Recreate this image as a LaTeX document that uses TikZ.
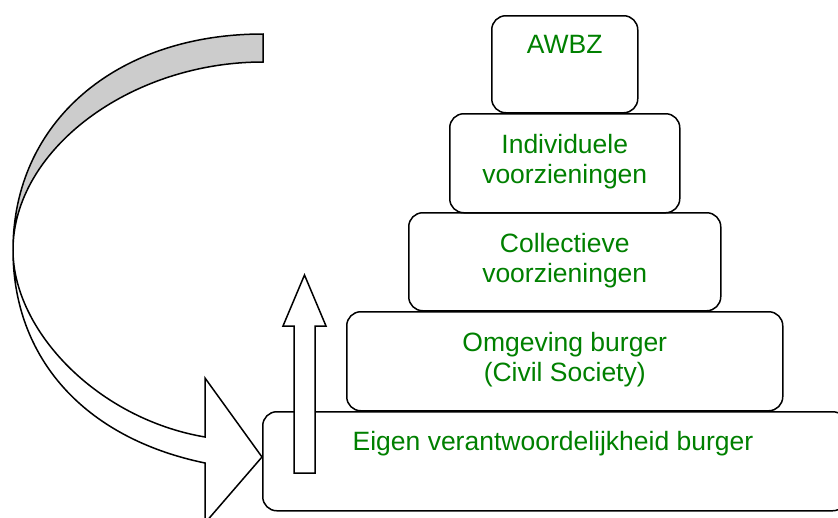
\documentclass[tikz,border=0pt]{standalone}
\usepackage{fontspec}
\setmainfont{Liberation Sans}
\usetikzlibrary{calc}
\definecolor{txtgreen}{RGB}{0,128,0}
\definecolor{backgray}{RGB}{204,204,204}
\tikzset{
  box/.style={draw, line width=1.5, rounded corners=14, fill=white, anchor=north west, inner sep=0},
  lbl/.style={anchor=base, inner sep=0, text=txtgreen, font=\fontsize{26.5}{30.5}\selectfont},
  shapeline/.style={draw, line width=1.5, line join=miter}
}
\begin{document}
\begin{tikzpicture}[x=1pt, y=-1pt]
\useasboundingbox (0,0) rectangle (838,517);
\clip (0,0) rectangle (838,517);
% boxes of the pyramid
\node[box, minimum width=584pt, minimum height=99pt] (eigen) at (262,411) {};
\node[box, minimum width=436pt, minimum height=99pt] (omg) at (346,311) {};
\node[box, minimum width=312pt, minimum height=98pt] (coll) at (408,212) {};
\node[box, minimum width=230pt, minimum height=99pt] (indiv) at (449,113) {};
\node[box, minimum width=146pt, minimum height=97pt] (awbz) at (491,15) {};
% texts
\node[lbl] (tawbz) at ($(awbz.north)+(0,38.5)$) {AWBZ};
\node[lbl] (tindiv1) at ($(indiv.north)+(0,40)$) {Individuele};
\node[lbl] (tindiv2) at ($(indiv.north)+(0,70.5)$) {voorzieningen};
\node[lbl] (tcoll1) at ($(coll.north)+(0,40)$) {Collectieve};
\node[lbl] (tcoll2) at ($(coll.north)+(0,70.5)$) {voorzieningen};
\node[lbl] (tomg1) at ($(omg.north)+(0,40)$) {Omgeving burger};
\node[lbl] (tomg2) at ($(omg.north)+(0,70.5)$) {(Civil Society)};
\node[lbl] (teigen) at ($(eigen.north west)+(291,39)$) {Eigen verantwoordelijkheid burger};
% up arrow
\filldraw[shapeline, fill=white] (294,473) -- (294,326) -- (283,326) -- (304.5,275) -- (326,326) -- (315,326) -- (315,473) -- cycle;
% curved arrow: back part (grey)
\filldraw[shapeline, fill=backgray] (263,34) .. controls (115.5,34) and (13,122.6) .. (13,250)
  .. controls (13,150) and (130,62) .. (263,62) -- cycle;
% curved arrow: front part with head
\filldraw[shapeline, fill=white] (13,250) .. controls (13,330) and (96.5,418.5) .. (205,437)
  -- (205,378) -- (262,457) -- (205,523) -- (205,463)
  .. controls (84,438) and (13,358) .. (13,250) -- cycle;
\end{tikzpicture}
\end{document}
